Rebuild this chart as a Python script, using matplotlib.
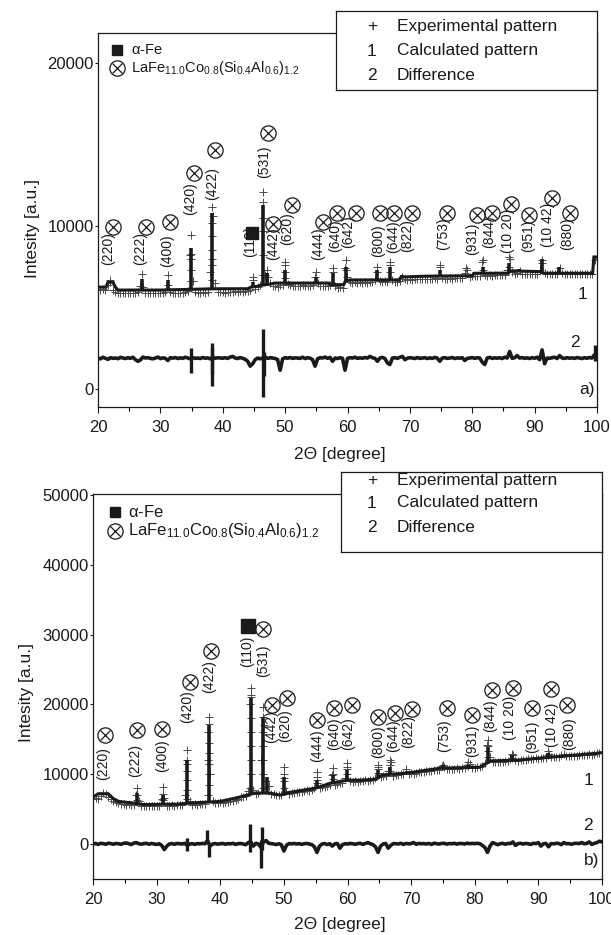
import numpy as np
import matplotlib
matplotlib.use("Agg")
import matplotlib.pyplot as plt

plt.rcParams['font.family'] = ['Liberation Sans', 'DejaVu Sans']
plt.rcParams['mathtext.fontset'] = 'custom'
plt.rcParams['mathtext.rm'] = 'Liberation Sans'
plt.rcParams['mathtext.it'] = 'Liberation Sans'

# ---------------------------------------------------------------- data
scan_step = 0.4
scan_x = np.arange(20.0, 100.0 + 1e-9, scan_step)   # 2-theta scan grid

hkl_names = ['(220)', '(222)', '(400)', '(420)', '(422)', '(110)', '(531)', '(442)',
             '(620)', '(444)', '(640)', '(642)', '(800)', '(644)', '(822)', '(753)',
             '(931)', '(844)', '(10 20)', '(951)', '(10 42)', '(880)']
hkl_phase = ['La', 'La', 'La', 'La', 'La', 'Fe', 'La', 'La', 'La', 'La', 'La',
             'La', 'La', 'La', 'La', 'La', 'La', 'La', 'La', 'La', 'La', 'La']

# ---- sample a)
bg_a_x = [20, 21.3, 21.6, 22.4, 22.8, 23.2, 30.0, 38.8, 44.0, 44.5,
          45.5, 46.0, 47.8, 48.3, 57.0, 57.3, 59.4, 59.7, 60.1, 60.4,
          68.3, 68.6, 72.5, 80.0, 80.3, 85.8, 86.1, 91.0, 91.4, 99.3, 99.5, 100]
bg_a_y = [6250, 6250, 6550, 6550, 6250, 6070, 6070, 6150, 6150, 6250,
          6300, 6350, 6450, 6500, 6500, 6400, 6400, 6650, 6650, 6690,
          6690, 6870, 6920, 6950, 7100, 7100, 7250, 7200, 7100, 7100, 8100, 8100]
pk_a_x = [27.0, 31.2, 34.9, 38.3, 44.8, 46.45, 47.1, 49.95, 55.0, 57.6, 59.8,
          64.65, 66.75, 68.8, 74.75, 79.0, 81.65, 85.95, 87.5, 91.2, 93.9]
pk_a_base = [6070, 6070, 6100, 6150, 6250, 6350, 6450, 6500, 6500, 6450, 6650,
             6690, 6690, 6870, 6930, 6950, 7100, 7100, 7250, 7150, 7100]
pk_a_top = [6750, 6700, 8650, 10800, 6550, 11290, 7100, 7300, 6870, 7100, 7500,
            7300, 7500, 7000, 7300, 7000, 7500, 7700, 7350, 8000, 7500]
obs_a_y = [
    6120, 6060, 6140, 6100, 6350, 6550, 6100, 5930, 5880, 5900,
    5900, 5860, 5920, 5880, 5910, 5870, 5940, 6300, 6250, 5900,
    5890, 5920, 5860, 5900, 5870, 5910, 5880, 5950, 6400, 5950,
    5900, 5880, 5920, 5900, 5890, 5930, 6000, 8200, 6600, 5950,
    5920, 5900, 5940, 5910, 5950, 7200, 10600, 6500, 5950, 5930,
    5950, 5920, 5980, 5940, 5960, 5990, 5950, 6000, 5970, 6010,
    6020, 6080, 6700, 6150, 6250, 6350, 11500, 7000, 6900, 6500,
    6300, 6320, 6280, 6350, 6400, 7600, 6450, 6350, 6320, 6300,
    6330, 6300, 6350, 6320, 6340, 6310, 6360, 6900, 6500, 6330,
    6340, 6320, 6300, 6350, 7200, 6300, 6200, 6250, 6220, 7400,
    6900, 6550, 6500, 6560, 6520, 6540, 6510, 6550, 6530, 6560,
    6540, 6700, 7200, 6600, 6560, 6600, 6580, 7600, 6700, 6550,
    6580, 6620, 6900, 6720, 6700, 6740, 6710, 6750, 6720, 6760,
    6740, 6760, 6730, 6770, 6750, 6780, 6760, 7500, 6800, 6770,
    6760, 6790, 6770, 6800, 6780, 6790, 6810, 7100, 7300, 6900,
    6920, 6950, 6930, 6960, 7800, 6980, 6950, 6970, 6960, 6980,
    6970, 6990, 6980, 7000, 7300, 8000, 7200, 7050, 7100, 7250,
    7050, 7060, 7040, 7070, 7050, 7060, 7080, 7300, 7900, 7100,
    7050, 7040, 7060, 7030, 7050, 7400, 7100, 7050, 7060, 7040,
    7060, 7050, 7070, 7040, 7060, 7050, 7070, 7060, 7080, 7900,
    8000]
obs_a_pk_x = [21.9, 27.0, 31.2, 34.85, 34.9, 34.9, 34.9, 34.95, 38.25, 38.3,
              38.3, 38.3, 38.3, 38.35, 38.35, 44.8, 46.4, 46.45, 46.45, 46.45,
              46.5, 47.1, 49.95, 49.95, 50.0, 55.0, 57.6, 59.8, 59.8, 64.65,
              66.75, 66.75, 74.75, 79.0, 81.65, 81.65, 85.95, 85.95, 91.2]
obs_a_pk_y = [6700, 7050, 7000, 6600, 7300, 8000, 9450, 8300, 6700, 7600,
              8500, 9400, 11170, 10200, 8000, 6900, 7000, 8200, 9700, 12100,
              10500, 7300, 6800, 7800, 7200, 7200, 7400, 7900, 7300, 7500,
              7800, 7200, 7600, 7400, 7900, 7300, 8100, 7500, 7700]
diff_a_y = [
    1900, 1850, 1950, 1880, 1820, 1920, 1880, 1900, 1860, 1940,
    1900, 1870, 1920, 1880, 1950, 1800, 1700, 1780, 1960, 1900,
    1920, 1880, 1850, 1900, 1960, 1870, 1910, 1880, 1750, 1920,
    1890, 1930, 1870, 1910, 1880, 1950, 1900, 1850, 1920, 1880,
    1900, 1870, 1930, 1890, 1910, 1850, 1950, 1880, 1920, 1900,
    1890, 1920, 1880, 1960, 2000, 1900, 1870, 1930, 1880, 1820,
    1700, 1400, 1550, 1800, 1900, 1850, 1900, 1950, 1880, 1920,
    1900, 1870, 1800, 1150, 1850, 1920, 1890, 1930, 1880, 1910,
    1900, 1880, 1950, 1870, 1920, 1890, 1800, 1400, 1850, 1920,
    1900, 1960, 1880, 1940, 1700, 1900, 1870, 1920, 1880, 1150,
    1880, 1920, 1900, 1950, 1880, 1910, 1890, 1930, 1900, 2000,
    1920, 1880, 1700, 1900, 1940, 1870, 1600, 1500, 1900, 1920,
    1880, 1950, 2000, 1800, 1890, 1920, 1900, 1870, 1930, 1880,
    1900, 1920, 1870, 1910, 1880, 1940, 1890, 1700, 1900, 1920,
    1880, 1900, 1930, 1870, 1910, 1890, 1920, 1750, 1880, 1900,
    1930, 1880, 1920, 1900, 1650, 1500, 1900, 1940, 1880, 1910,
    1890, 1920, 1870, 1950, 1900, 2300, 1880, 1920, 2050, 1900,
    1930, 1880, 1910, 1870, 1920, 1890, 1950, 1800, 2400, 1550,
    1900, 1880, 1920, 1950, 1870, 2050, 1900, 1880, 1920, 1890,
    1910, 1880, 1930, 1900, 1870, 1920, 1890, 1930, 1900, 2100,
    1900]
dsp_a_x = [34.9, 38.2, 38.35, 46.45, 46.6, 99.7]
dsp_a_lo = [980, 180, 900, -490, 800, 1700]
dsp_a_hi = [2500, 2820, 2500, 3680, 2300, 2700]
hkl_a_tx = [21.6, 26.7, 31.1, 34.7, 38.3, 44.4, 46.6, 48.1, 50.3, 55.3, 58.0,
            60.1, 64.9, 67.3, 69.5, 75.3, 80.0, 82.7, 85.7, 88.9, 92.1, 95.2]
hkl_a_ty = [7600, 7600, 7480, 10680, 11600, 8100, 12950, 7910, 8830, 7910, 8400,
            8650, 8100, 8340, 8400, 8530, 8220, 8650, 8340, 8400, 8710, 8530]
hkl_a_mx = [22.4, 27.7, 31.5, 35.4, 38.8, 44.7, 47.3, 48.1, 51.1, 56.1, 58.3,
            61.4, 65.2, 67.4, 70.3, 75.9, 80.8, 83.2, 86.2, 89.1, 92.8, 95.7]
hkl_a_my = [9940, 9940, 10250, 13250, 14660, 9570, 15700, 10120, 11290, 10250, 10800,
            10800, 10800, 10800, 10800, 10800, 10670, 10800, 11350, 10670, 11720, 10800]

# ---- sample b)
bg_b_x = [20, 20.8, 22.4, 23.2, 24.0, 26.0, 28.0, 31.5, 33.0, 36.0,
          40.0, 43.0, 44.2, 45.5, 47.8, 49.4, 51.0, 53.0, 55.0, 57.3,
          60.0, 62.4, 64.5, 65.5, 69.3, 74.5, 80.8, 82.5, 86.6, 91.8, 99.2, 100]
bg_b_y = [6700, 7200, 7200, 6500, 6100, 5900, 5650, 5700, 5700, 5900,
          6100, 6700, 7000, 7300, 7300, 7000, 7400, 7700, 8000, 8700,
          9150, 9150, 9300, 9900, 10150, 10850, 11000, 11900, 12000, 12430, 13000, 13100]
pk_b_x = [26.9, 31.0, 34.8, 38.2, 44.8, 46.7, 47.4, 50.0, 55.2, 57.7, 59.9,
          64.8, 66.7, 69.3, 75.0, 78.9, 82.1, 85.9, 88.7, 91.5, 93.9]
pk_b_base = [5850, 5700, 5800, 6000, 7050, 7300, 7300, 7100, 8000, 8600, 9150,
             9300, 10000, 10150, 10900, 10950, 11700, 12000, 12150, 12400, 12600]
pk_b_top = [7300, 7000, 12000, 17000, 20860, 18150, 9570, 9570, 9150, 9860, 10570,
            10570, 11000, 10500, 11290, 11290, 13860, 12700, 12300, 13000, 12800]
obs_b_y = [
    6500, 6600, 6450, 6900, 7300, 7200, 6800, 6400, 6150, 6000,
    5900, 5750, 5800, 5650, 5700, 5600, 5550, 7000, 6200, 5500,
    5450, 5500, 5400, 5480, 5420, 5500, 5450, 6400, 6600, 5500,
    5480, 5550, 5500, 5600, 5520, 5650, 7000, 11500, 6200, 5650,
    5700, 5650, 5750, 5700, 5800, 12000, 10000, 6200, 5850, 5900,
    5950, 5900, 6000, 6050, 6100, 6200, 6350, 6500, 6700, 6800,
    6900, 7600, 21000, 7800, 7200, 7300, 12000, 17000, 9000, 8300,
    7200, 7100, 7000, 6950, 7000, 9500, 7600, 7200, 7300, 7350,
    7400, 7500, 7450, 7600, 7700, 7650, 7800, 8000, 9200, 8000,
    8100, 8200, 8300, 8400, 9900, 8500, 8600, 8700, 8800, 9500,
    11000, 9000, 8900, 9000, 8950, 9050, 9000, 9100, 9050, 9150,
    9200, 9400, 11000, 9600, 9700, 9800, 10500, 11800, 9800, 9900,
    9900, 10000, 10050, 10800, 10100, 10150, 10100, 10200, 10250, 10300,
    10350, 10400, 10450, 10500, 10550, 10600, 10650, 11200, 11100, 10700,
    10750, 10800, 10750, 10850, 10800, 10850, 10900, 11300, 11400, 10900,
    10950, 11000, 11100, 11200, 11600, 14200, 12400, 11800, 11700, 11750,
    11800, 11750, 11850, 11900, 12200, 12800, 12050, 11950, 12000, 12050,
    12100, 12200, 12150, 12200, 12250, 12200, 12300, 12350, 12300, 12900,
    12450, 12400, 12500, 12450, 12700, 12900, 12550, 12600, 12550, 12650,
    12650, 12700, 12750, 12700, 12800, 12850, 12800, 12900, 13000, 13100,
    13150]
obs_b_pk_x = [26.9, 26.9, 26.9, 31.0, 31.0, 31.0,
              34.75, 34.8, 34.8, 34.85, 34.8, 34.8,
              38.15, 38.2, 38.2, 38.25, 38.2, 38.2, 38.15, 38.2, 38.2,
              44.75, 44.8, 44.8, 44.85, 44.8, 44.8, 44.75, 44.8, 44.8,
              46.65, 46.7, 46.7, 46.75, 46.7, 46.7, 46.7,
              50.0, 50.0, 50.0, 50.0, 55.2, 55.2, 55.2, 57.7, 57.7, 57.7,
              59.9, 59.9, 59.9, 64.8, 64.8, 64.8, 66.7, 66.7, 66.7, 75.0,
              78.9, 78.9, 82.1, 82.1, 82.1, 82.1, 85.9, 85.9, 91.5, 91.5]
obs_b_pk_y = [6300, 7000, 8000, 6300, 7200, 8150,
              6500, 7800, 9200, 10500, 12000, 13400,
              7000, 8500, 10000, 11500, 13000, 14500, 16000, 17200, 18150,
              8000, 10000, 12000, 14000, 16000, 18000, 20000, 21300, 22300,
              8000, 10000, 12000, 14000, 16000, 18150, 19600,
              8000, 9000, 10000, 11000, 8800, 9600, 10300, 9300, 10100, 10860,
              10000, 10800, 11570, 10200, 10800, 11300, 10500, 11300, 12000, 11300,
              11200, 11700, 12500, 13300, 14100, 14860, 12300, 12900, 12800, 13300]
diff_b_y = [
    0, 80, -60, 100, 50, -40, 120, 60, -30, 80,
    40, -50, 100, 150, 60, -80, 120, 200, 40, -30,
    60, 100, -40, 80, 0, -60, 40, -200, -800, -300,
    0, 60, -40, 80, 40, 0, 100, -200, 0, 40,
    -40, 60, 20, 80, 40, 500, -300, 0, 60, -20,
    40, 80, -30, 60, 20, 100, -60, 40, 80, 0,
    -100, 200, 300, -300, 100, 0, -500, 300, 500, 100,
    60, 0, -80, 40, -100, -1000, -200, 60, 20, 80,
    0, 60, -60, 40, 80, 0, -100, -400, -1200, -300,
    0, 60, -80, 40, -300, 20, 80, -600, -100, 40,
    0, 80, 40, -40, 60, 100, -50, 80, 200, 40,
    -100, -400, -1200, -300, 0, 80, -600, -200, 60, 40,
    0, 100, -60, 80, 20, 60, 200, -40, 80, 40,
    60, 0, 80, -60, 120, 40, 0, 80, 100, -20,
    60, 40, 100, -20, 80, 60, 0, 120, 40, 80,
    60, 100, 40, -200, -500, -1200, -300, 200, 60, -100,
    40, 100, -40, 80, 60, 300, -200, 60, 100, 0,
    80, 40, -60, 100, 60, 200, -300, 40, 80, -400,
    60, 20, 100, 80, -100, 200, 40, 60, -40, 80,
    100, 60, 200, 40, 80, 300, -60, 100, 200, 400,
    300]
dsp_b_x = [34.7, 37.9, 38.3, 44.7, 46.4, 46.55]
dsp_b_lo = [-1000, 0, -1860, -1200, -3430, -800]
dsp_b_hi = [900, 2000, 0, 2860, 600, 2430]
hkl_b_tx = [21.6, 26.6, 30.8, 34.8, 38.2, 44.2, 46.7, 48.0, 50.2, 55.2, 57.9,
            60.1, 64.8, 67.2, 69.5, 75.2, 79.6, 82.4, 85.6, 89.0, 92.2, 94.8]
hkl_b_ty = [9150, 9570, 10290, 17290, 21580, 25290, 23860, 14430, 14580, 11720, 13430,
            13430, 12290, 13150, 13720, 13150, 12430, 16000, 14860, 13000, 13860, 13430]
hkl_b_mx = [21.9, 26.9, 30.8, 35.2, 38.5, 44.4, 46.7, 48.1, 50.5, 55.2, 57.9,
            60.7, 64.8, 67.5, 70.1, 75.6, 79.6, 82.7, 86.0, 89.0, 92.0, 94.5]
hkl_b_my = [15580, 16290, 16430, 23150, 27720, 31300, 30870, 19860, 20860, 17720, 19430,
            19860, 18150, 18720, 19290, 19430, 18430, 22000, 22290, 19430, 22150, 19860]

phase_fe = r'$\alpha$-Fe'
phase_la = r'LaFe$_{11.0}$Co$_{0.8}$(Si$_{0.4}$Al$_{0.6}$)$_{1.2}$'
legend_rows = [('+', 'Experimental pattern'), ('1', 'Calculated pattern'), ('2', 'Difference')]

# ---------------------------------------------------------------- layout
W, H = 611, 935
fig = plt.figure(figsize=(W / 100, H / 100), dpi=100)
fig.patch.set_facecolor('white')
INK = '#1a1a1a'


def px_box(l, t, r, b):
    return [l / W, 1 - b / H, (r - l) / W, (b - t) / H]


def otimes(ax, x, y, size=11, **kw):
    ax.plot([x], [y], marker='o', ms=size, mfc='none', mec=INK, mew=0.9, ls='none', **kw)
    ax.plot([x], [y], marker='x', ms=size * 0.68, mec=INK, mew=0.9, ls='none', **kw)


def draw_panel(ax, bg_x, bg_y, pk_x, pk_base, pk_top, obs_y, opk_x, opk_y,
               diff_y, dsp_x, dsp_lo, dsp_hi, tx, ty, mx, my, fe_ms):
    plus = dict(ls='none', marker='+', ms=6, mew=0.7, color='#4a4a4a', zorder=2)
    ax.plot(scan_x, obs_y, **plus)
    ax.plot(opk_x, opk_y, **plus)
    ax.plot(bg_x, bg_y, color=INK, lw=2.2, zorder=3, solid_joinstyle='miter')
    ax.vlines(pk_x, pk_base, pk_top, color=INK, lw=2.6, zorder=3)
    ax.plot(scan_x, diff_y, color=INK, lw=2.6, zorder=3)
    ax.vlines(dsp_x, dsp_lo, dsp_hi, color=INK, lw=2.4, zorder=3)
    for name, ph, x0, y0, x1, y1 in zip(hkl_names, hkl_phase, tx, ty, mx, my):
        ax.text(x0, y0, name, rotation=90, ha='center', va='bottom',
                fontsize=10, color=INK, zorder=4)
        if ph == 'Fe':
            ax.plot([x1], [y1], marker='s', ms=fe_ms, color=INK, ls='none', zorder=5)
        else:
            otimes(ax, x1, y1, zorder=5)
    ax.set_xlim(20, 100)
    ax.set_xticks(np.arange(20, 101, 10))
    ax.set_xticks(np.arange(25, 100, 10), minor=True)
    ax.tick_params(axis='x', which='major', direction='out', length=4, width=0.8,
                   pad=5, labelsize=12, colors=INK)
    ax.tick_params(axis='x', which='minor', direction='out', length=3, width=0.8)
    ax.tick_params(axis='y', direction='out', length=2, width=0.8, pad=1,
                   labelsize=12, colors=INK)
    for s in ax.spines.values():
        s.set_linewidth(0.9)
        s.set_color(INK)


def legend_box(l, t, r, b, rows_y, sym_x, txt_x):
    lax = fig.add_axes(px_box(l, t, r, b), zorder=10)
    lax.set_xlim(l, r)
    lax.set_ylim(b, t)
    lax.set_xticks([])
    lax.set_yticks([])
    lax.set_facecolor('white')
    for s in lax.spines.values():
        s.set_linewidth(0.9)
        s.set_color(INK)
    for (sym, txt), y in zip(legend_rows, rows_y):
        lax.text(sym_x, y, sym, ha='center', va='center', fontsize=12.5, color=INK)
        lax.text(txt_x, y, txt, ha='left', va='center', fontsize=12.5, color=INK)


def phase_key(ax, rows_px, x_sym, x_txt, top_px, h_px, fe_ms, fs):
    y_fe = 1 - (rows_px[0] - top_px) / h_px
    y_la = 1 - (rows_px[1] - top_px) / h_px
    ax.plot([x_sym], [y_fe], marker='s', ms=fe_ms, color=INK, ls='none',
            transform=ax.transAxes, clip_on=False)
    ax.text(x_txt, y_fe, phase_fe, transform=ax.transAxes, ha='left',
            va='center', fontsize=fs, color=INK)
    otimes(ax, x_sym, y_la, transform=ax.transAxes, clip_on=False)
    ax.text(x_txt, y_la, phase_la, transform=ax.transAxes, ha='left',
            va='center', fontsize=fs, color=INK)


# ---- panel a)
ax_a = fig.add_axes(px_box(98, 33, 597, 407))
draw_panel(ax_a, bg_a_x, bg_a_y, pk_a_x, pk_a_base, pk_a_top, obs_a_y,
           obs_a_pk_x, obs_a_pk_y, diff_a_y, dsp_a_x, dsp_a_lo, dsp_a_hi,
           hkl_a_tx, hkl_a_ty, hkl_a_mx, hkl_a_my, fe_ms=8)
ax_a.set_ylim(-1104, 21840)
ax_a.set_yticks([0, 10000, 20000])
ax_a.text(97.7, 5770, '1', ha='center', va='center', fontsize=12.5, color=INK)
ax_a.text(96.5, 2880, '2', ha='center', va='center', fontsize=12.5, color=INK)
ax_a.text(99.6, 0, 'a)', ha='right', va='center', fontsize=12.5, color=INK)
phase_key(ax_a, (50, 68), (117 - 98) / 499, (131 - 98) / 499, 33, 374, fe_ms=7, fs=10.5)
legend_box(336, 11, 597, 90, (26, 51, 75), 372, 397)
fig.text(340 / W, 1 - 455 / H, '2\u0398 [degree]', ha='center', va='center',
         fontsize=12.5, color=INK)
fig.text(33 / W, 1 - 228 / H, 'Intesity [a.u.]', rotation=90, ha='center',
         va='center', fontsize=12.5, color=INK)

# ---- panel b)
ax_b = fig.add_axes(px_box(93, 494, 602, 879))
draw_panel(ax_b, bg_b_x, bg_b_y, pk_b_x, pk_b_base, pk_b_top, obs_b_y,
           obs_b_pk_x, obs_b_pk_y, diff_b_y, dsp_b_x, dsp_b_lo, dsp_b_hi,
           hkl_b_tx, hkl_b_ty, hkl_b_mx, hkl_b_my, fe_ms=10)
ax_b.set_ylim(-5014, 50143)
ax_b.set_yticks(np.arange(0, 50001, 10000))
ax_b.text(97.8, 9150, '1', ha='center', va='center', fontsize=12.5, color=INK)
ax_b.text(97.8, 2700, '2', ha='center', va='center', fontsize=12.5, color=INK)
ax_b.text(99.6, -2300, 'b)', ha='right', va='center', fontsize=12.5, color=INK)
phase_key(ax_b, (512, 531), (115 - 93) / 509, (128 - 93) / 509, 494, 385, fe_ms=7, fs=12)
legend_box(341, 472, 602, 552, (480, 503, 527), 372, 397)
fig.text(340 / W, 1 - 925 / H, '2\u0398 [degree]', ha='center', va='center',
         fontsize=12.5, color=INK)
fig.text(27 / W, 1 - 692 / H, 'Intesity [a.u.]', rotation=90, ha='center',
         va='center', fontsize=12.5, color=INK)

fig.savefig('out.png', dpi=100, facecolor='white')
